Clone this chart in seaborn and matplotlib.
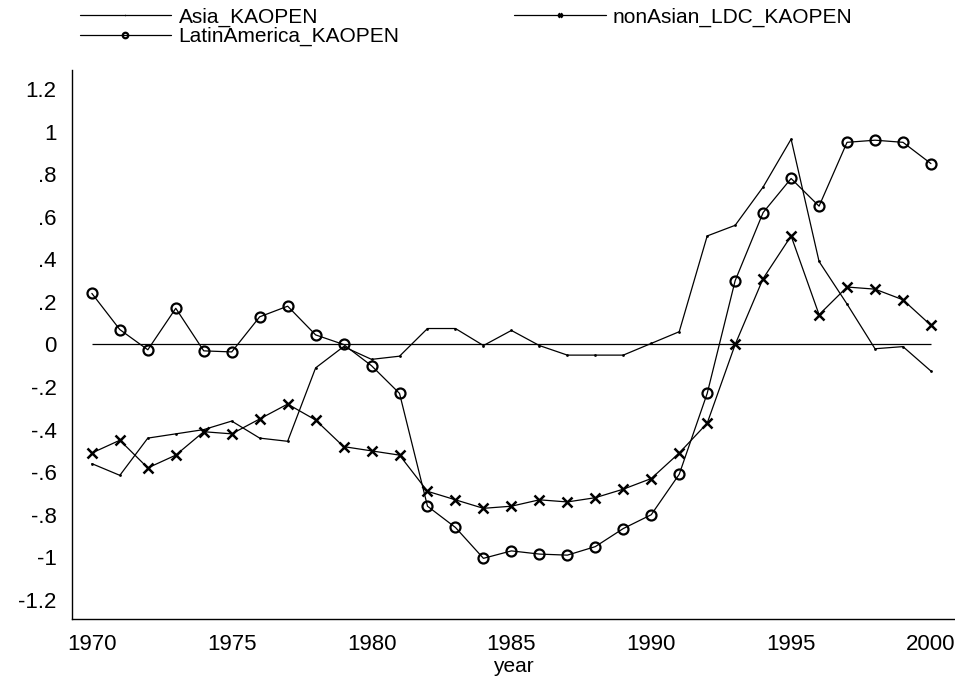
import numpy as np
import pandas as pd
import matplotlib
matplotlib.use('Agg')
import matplotlib.pyplot as plt
import seaborn as sns

# KAOPEN capital account openness, regional averages
years = list(range(1970, 2001))

asia = [-0.56, -0.615, -0.44, -0.42, -0.40, -0.36, -0.44, -0.455, -0.11, -0.01,
        -0.07, -0.055, 0.075, 0.075, -0.005, 0.066, -0.005, -0.05, -0.05, -0.05,
        0.005, 0.06, 0.51, 0.56, 0.74, 0.965, 0.39, 0.19, -0.02, -0.01, -0.125]

latin = [0.24, 0.07, -0.025, 0.17, -0.03, -0.035, 0.13, 0.18, 0.045, 0.0,
         -0.10, -0.23, -0.76, -0.86, -1.005, -0.97, -0.985, -0.99, -0.95, -0.865,
         -0.80, -0.61, -0.23, 0.30, 0.62, 0.78, 0.65, 0.95, 0.96, 0.95, 0.85]

nonasian = [-0.51, -0.45, -0.58, -0.52, -0.41, -0.42, -0.35, -0.28, -0.355, -0.48,
            -0.50, -0.52, -0.69, -0.73, -0.77, -0.76, -0.73, -0.74, -0.72, -0.68,
            -0.63, -0.51, -0.37, 0.0, 0.31, 0.51, 0.14, 0.27, 0.26, 0.21, 0.09]

ytick_vals = [1.2, 1, 0.8, 0.6, 0.4, 0.2, 0, -0.2, -0.4, -0.6, -0.8, -1, -1.2]
ytick_labels = ['1.2', '1', '.8', '.6', '.4', '.2', '0', '-.2', '-.4', '-.6', '-.8', '-1', '-1.2']
xtick_vals = [1970, 1975, 1980, 1985, 1990, 1995, 2000]

df = pd.DataFrame({'year': years, 'Asia_KAOPEN': asia,
                   'LatinAmerica_KAOPEN': latin, 'nonAsian_LDC_KAOPEN': nonasian})

sns.set_style('white')
plt.rcParams['font.family'] = ['Liberation Sans', 'DejaVu Sans']
plt.rcParams['text.color'] = 'black'
plt.rcParams['axes.labelcolor'] = 'black'

fig = plt.figure(figsize=(9.55, 6.82), dpi=100)
ax = fig.add_axes([0.0754, 0.0924, 0.9246, 0.805])

# zero reference line
ax.hlines(0, years[0], years[-1], color='black', lw=0.9, zorder=1)

sns.lineplot(data=df, x='year', y='Asia_KAOPEN', ax=ax, color='black', lw=0.9,
             marker='o', markersize=2, markeredgewidth=0, label='Asia_KAOPEN')
sns.lineplot(data=df, x='year', y='LatinAmerica_KAOPEN', ax=ax, color='black', lw=0.9,
             marker='o', markersize=7.2, markerfacecolor='none', markeredgecolor='black',
             markeredgewidth=1.6, label='LatinAmerica_KAOPEN')
sns.lineplot(data=df, x='year', y='nonAsian_LDC_KAOPEN', ax=ax, color='black', lw=0.9,
             marker='x', markersize=6.5, markeredgecolor='black', markeredgewidth=1.8,
             label='nonAsian_LDC_KAOPEN')

ax.set_xlim(1969.29, 2000.86)
ax.set_ylim(-1.29, 1.29)
ax.set_xticks(xtick_vals)
ax.set_yticks(ytick_vals)
ax.set_yticklabels(ytick_labels)
ax.set_xlabel('year', fontsize=15, labelpad=1)
ax.set_ylabel('')
ax.tick_params(axis='both', labelsize=16, length=8, width=1.2, color='#555555',
               labelcolor='black', direction='out', pad=3)
for s in ['top', 'right']:
    ax.spines[s].set_visible(False)
for s in ['left', 'bottom']:
    ax.spines[s].set_color('black')
    ax.spines[s].set_linewidth(1.0)

handles, labels = ax.get_legend_handles_labels()
ax.get_legend().remove()
leg = fig.legend(handles, labels,
                 loc='upper left', bbox_to_anchor=(0.068, 1.01), ncol=2, frameon=False,
                 fontsize=15, handlelength=4.4, handletextpad=0.35, labelspacing=0.0,
                 columnspacing=5.5, markerscale=0.55, borderpad=0.2)

fig.savefig('out.png', dpi=100)
